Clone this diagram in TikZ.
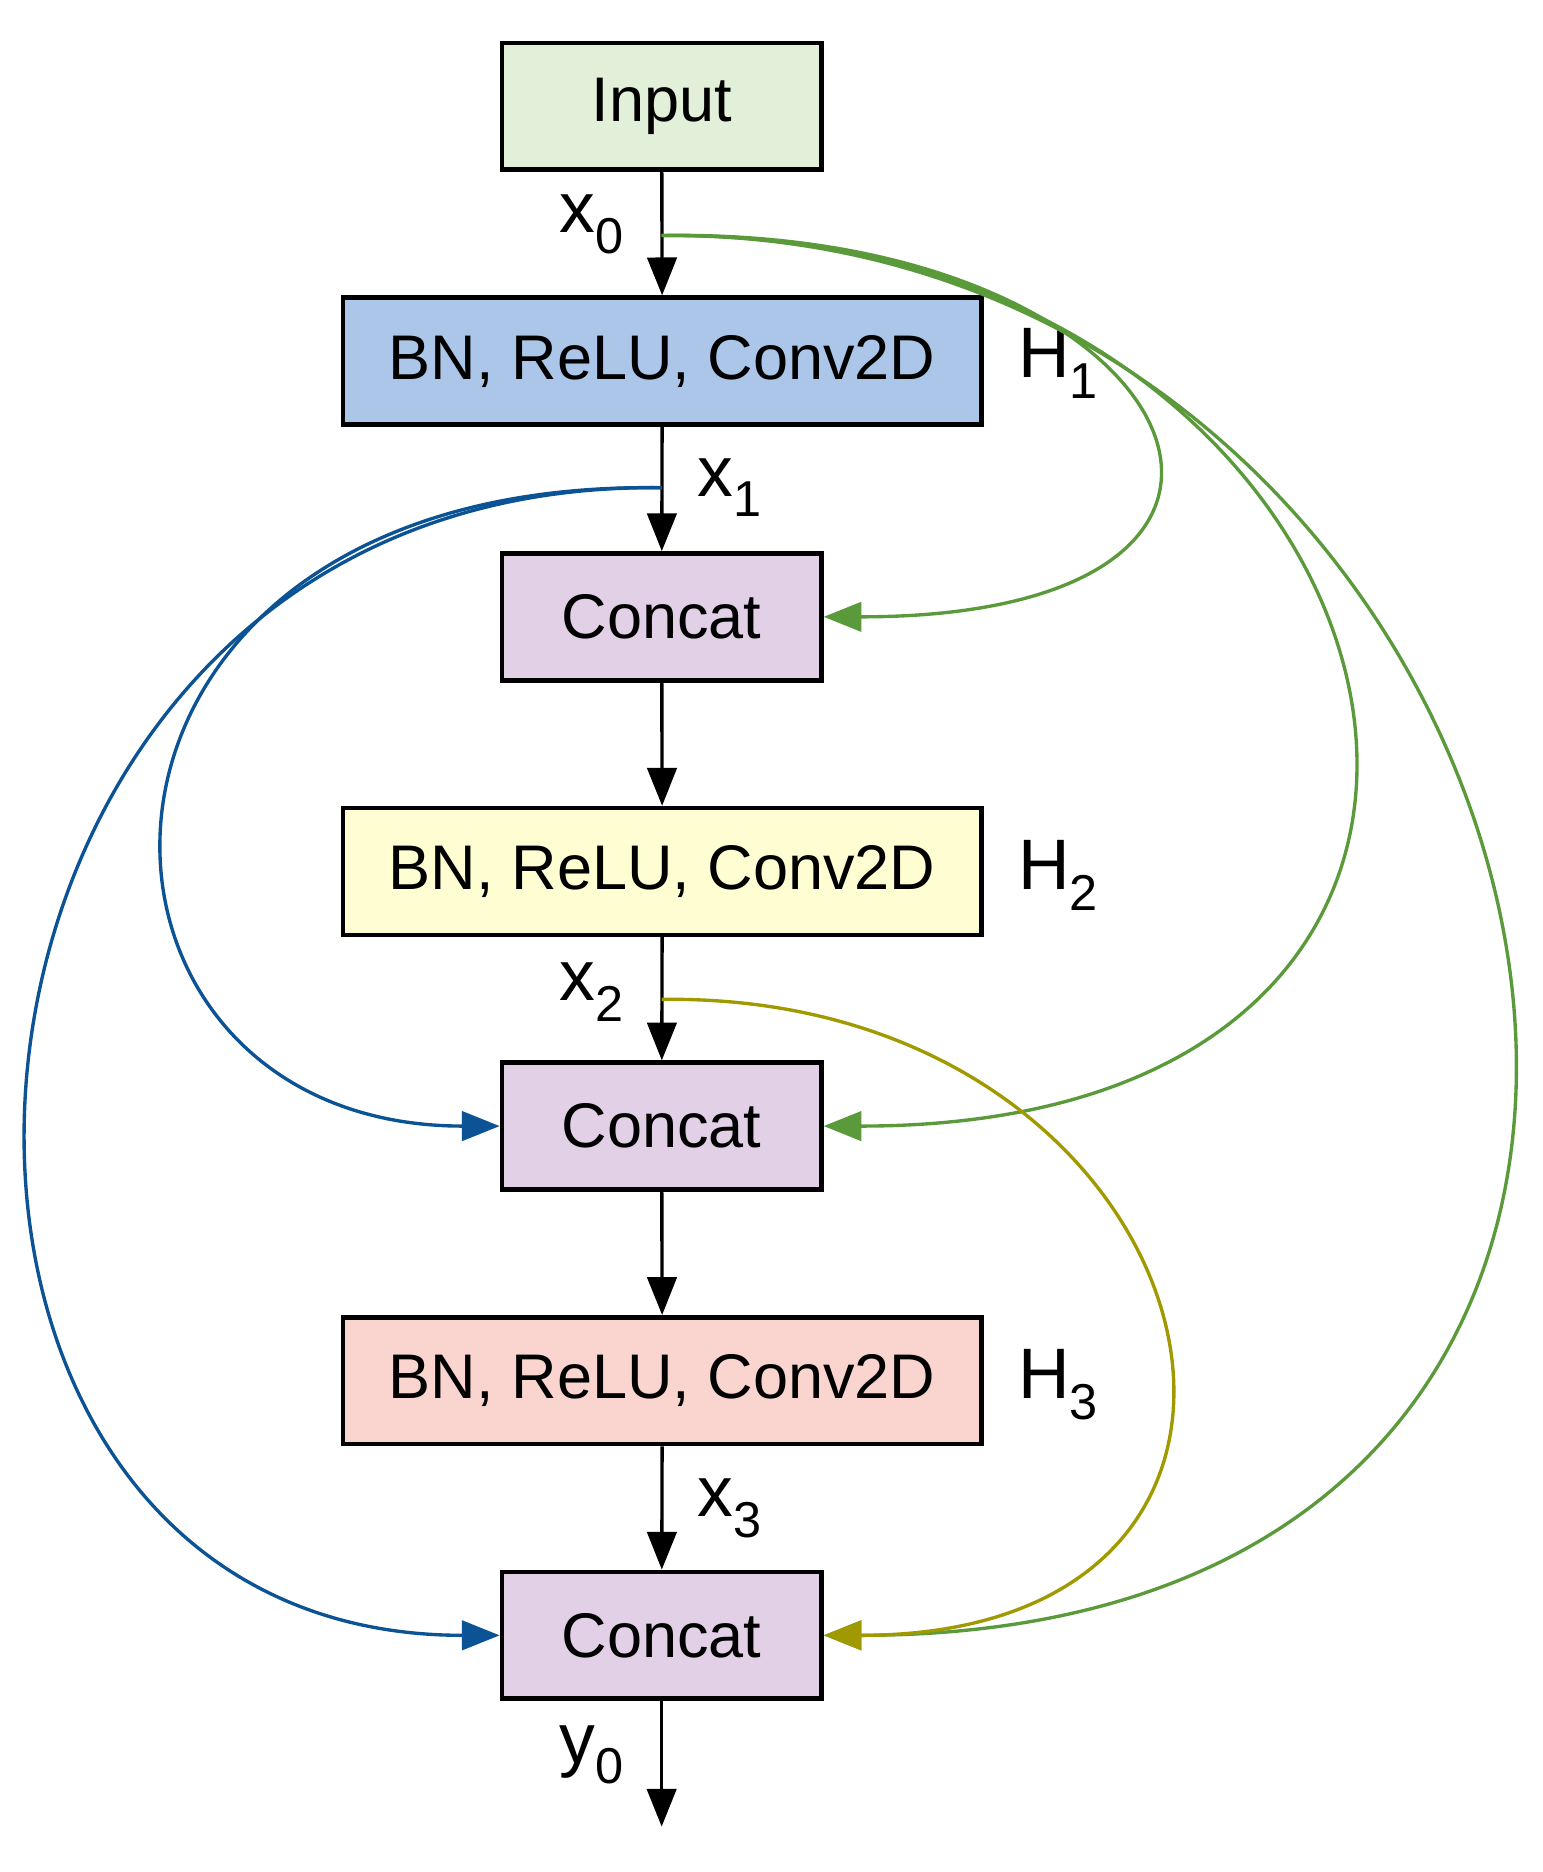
\documentclass[tikz,border=0pt]{standalone}
\usepackage{fontspec}
\setmainfont{Liberation Sans}
\usetikzlibrary{arrows.meta}
\definecolor{cin}{HTML}{E2EFD9}
\definecolor{ch1}{HTML}{ABC6E8}
\definecolor{ccat}{HTML}{E1D0E6}
\definecolor{ch2}{HTML}{FFFDD2}
\definecolor{ch3}{HTML}{FAD5D0}
\definecolor{cg}{HTML}{5B9A3B}
\definecolor{cb}{HTML}{0B5394}
\definecolor{co}{HTML}{A09A00}
\newcommand{\lab}[2]{#1\raisebox{-0.55ex}{\fontsize{12}{12}\selectfont #2}}
\begin{document}
\begin{tikzpicture}[x=0.01cm,y=-0.01cm,
  box/.style={draw,line width=1.1pt,minimum height=1.06cm,inner sep=0pt,font=\fontsize{15}{18}\selectfont},
  small/.style={box,minimum width=2.67cm},
  big/.style={box,minimum width=5.34cm},
  lbl/.style={font=\fontsize{17}{18}\selectfont,inner sep=0pt},
  arr/.style={line width=0.8pt,-{Triangle[length=9pt,width=7pt]}}]
\useasboundingbox (0,0) rectangle (1290,1566);
\node[small,fill=cin] (in) at (553.5,89) {Input};
\node[big,fill=ch1] (h1) at (554,302) {BN, ReLU, Conv2D};
\node[small,fill=ccat] (c1) at (553.5,516) {Concat};
\node[big,fill=ch2] (h2) at (554,729) {BN, ReLU, Conv2D};
\node[small,fill=ccat] (c2) at (553.5,942) {Concat};
\node[big,fill=ch3] (h3) at (554,1155) {BN, ReLU, Conv2D};
\node[small,fill=ccat] (c3) at (553.5,1368) {Concat};
\coordinate (out) at (553.5,1528);
\coordinate (p0) at (553.5,197);
\coordinate (p1) at (553.5,408);
\coordinate (p2) at (553.5,836);
\draw[arr] (in) -- (h1);
\draw[arr] (h1) -- (c1);
\draw[arr] (c1) -- (h2);
\draw[arr] (h2) -- (c2);
\draw[arr] (c2) -- (h3);
\draw[arr] (h3) -- (c3);
\draw[arr] (c3) -- (out);
\node[lbl] (l0) at (495,188) {\lab{x}{0}};
\node[lbl] (l1) at (610,408) {\lab{x}{1}};
\node[lbl] (l2) at (495,830) {\lab{x}{2}};
\node[lbl] (l3) at (610,1262) {\lab{x}{3}};
\node[lbl] (ly) at (495,1468) {\lab{y}{0}};
\node[lbl] (t1) at (885,304) {\lab{H}{1}};
\node[lbl] (t2) at (885,732) {\lab{H}{2}};
\node[lbl] (t3) at (885,1158) {\lab{H}{3}};
\draw[arr,cg] (p0) .. controls (1000,190) and (1140,516) .. (c1.east);
\draw[arr,cg] (p0) .. controls (1200,190) and (1380,942) .. (c2.east);
\draw[arr,cg] (p0) .. controls (1330,190) and (1600,1368) .. (c3.east);
\draw[arr,cb] (p1) .. controls (20,400) and (30,942) .. (c2.west);
\draw[arr,cb] (p1) .. controls (-100,400) and (-150,1368) .. (c3.west);
\draw[arr,co] (p2) .. controls (1020,830) and (1150,1368) .. (c3.east);
\end{tikzpicture}
\end{document}
